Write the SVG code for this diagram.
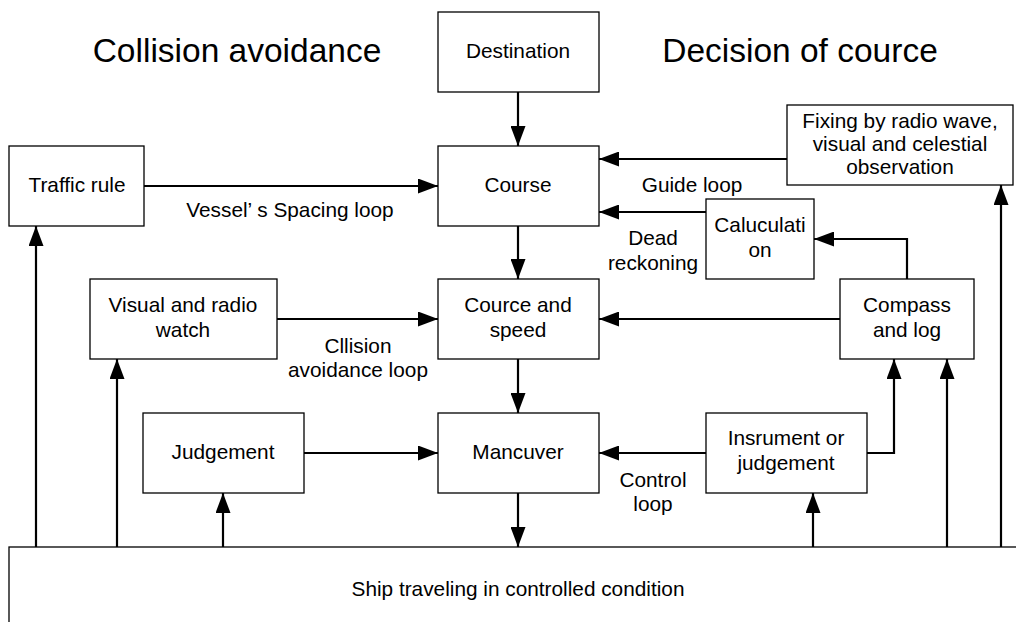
<svg xmlns="http://www.w3.org/2000/svg" width="1016" height="622" viewBox="0 0 1016 622">
<defs>
<marker id="ah" viewBox="0 0 20 15" refX="20" refY="7.5" markerWidth="20" markerHeight="15" markerUnits="userSpaceOnUse" orient="auto">
<path d="M0,0 L20,7.5 L0,15 Z" fill="#000"/>
</marker>
</defs>
<style>
.box{fill:#fff;stroke:#000;stroke-width:1.3}
.t{font-family:"Liberation Sans",Arial,sans-serif;font-size:20.8px;fill:#000;text-anchor:middle}
.title{font-family:"Liberation Sans",Arial,sans-serif;font-size:33.5px;fill:#000;text-anchor:middle}
.c{fill:none;stroke:#000;stroke-width:2.2;marker-end:url(#ah)}
</style>
<rect width="1016" height="622" fill="#fff"/>
<text class="title" x="237" y="62">Collision avoidance</text>
<text class="title" x="800" y="62">Decision of cource</text>

<g id="connectors">
<path class="c" d="M518 92 V146"/>
<path class="c" d="M144 186 H438"/>
<path class="c" d="M787 159 H599"/>
<path class="c" d="M706 212 H599"/>
<path class="c" d="M518 226 V279"/>
<path class="c" d="M907 279 V239 H814"/>
<path class="c" d="M277 319 H438"/>
<path class="c" d="M840 319 H599"/>
<path class="c" d="M518 359 V413"/>
<path class="c" d="M304 453 H438"/>
<path class="c" d="M706 453 H599"/>
<path class="c" d="M867 453 H894 V359"/>
<path class="c" d="M518 493 V547"/>
<path class="c" d="M36 547 V226"/>
<path class="c" d="M117 547 V359"/>
<path class="c" d="M223 547 V493"/>
<path class="c" d="M813 547 V493"/>
<path class="c" d="M947 547 V359"/>
<path class="c" d="M1001 547 V185"/>
</g>

<g id="labels">
<text class="t" x="290" y="217">Vessel’ s Spacing loop</text>
<text class="t" x="692" y="192">Guide loop</text>
<text class="t" x="653" y="245">Dead</text>
<text class="t" x="653" y="270">reckoning</text>
<text class="t" x="358" y="353">Cllision</text>
<text class="t" x="358" y="377">avoidance loop</text>
<text class="t" x="653" y="487">Control</text>
<text class="t" x="653" y="511">loop</text>
</g>

<g id="destination"><rect class="box" x="438" y="12" width="161" height="80"/><text class="t" x="518" y="58">Destination</text></g>
<g id="course"><rect class="box" x="438" y="146" width="161" height="80"/><text class="t" x="518" y="192">Course</text></g>
<g id="traffic-rule"><rect class="box" x="9" y="146" width="135" height="80"/><text class="t" x="77" y="192">Traffic rule</text></g>
<g id="fixing"><rect class="box" x="787" y="105" width="226" height="80"/><text class="t" x="900" y="128">Fixing by radio wave,</text><text class="t" x="900" y="151">visual and celestial</text><text class="t" x="900" y="174">observation</text></g>
<g id="calculation"><rect class="box" x="706" y="199" width="108" height="80"/><text class="t" x="760" y="232">Caluculati</text><text class="t" x="760" y="257">on</text></g>
<g id="visual-watch"><rect class="box" x="90" y="279" width="187" height="80"/><text class="t" x="183" y="312">Visual and radio</text><text class="t" x="183" y="337">watch</text></g>
<g id="course-speed"><rect class="box" x="438" y="279" width="161" height="80"/><text class="t" x="518" y="312">Cource and</text><text class="t" x="518" y="337">speed</text></g>
<g id="compass"><rect class="box" x="840" y="279" width="134" height="80"/><text class="t" x="907" y="312">Compass</text><text class="t" x="907" y="337">and log</text></g>
<g id="judgement"><rect class="box" x="143" y="413" width="161" height="80"/><text class="t" x="223" y="459">Judgement</text></g>
<g id="mancuver"><rect class="box" x="438" y="413" width="161" height="80"/><text class="t" x="518" y="459">Mancuver</text></g>
<g id="instrument"><rect class="box" x="706" y="413" width="161" height="80"/><text class="t" x="786" y="445">Insrument or</text><text class="t" x="786" y="470">judgement</text></g>
<g id="ship"><rect class="box" x="9" y="547" width="1030" height="100"/><text class="t" x="518" y="596">Ship traveling in controlled condition</text></g>
</svg>
